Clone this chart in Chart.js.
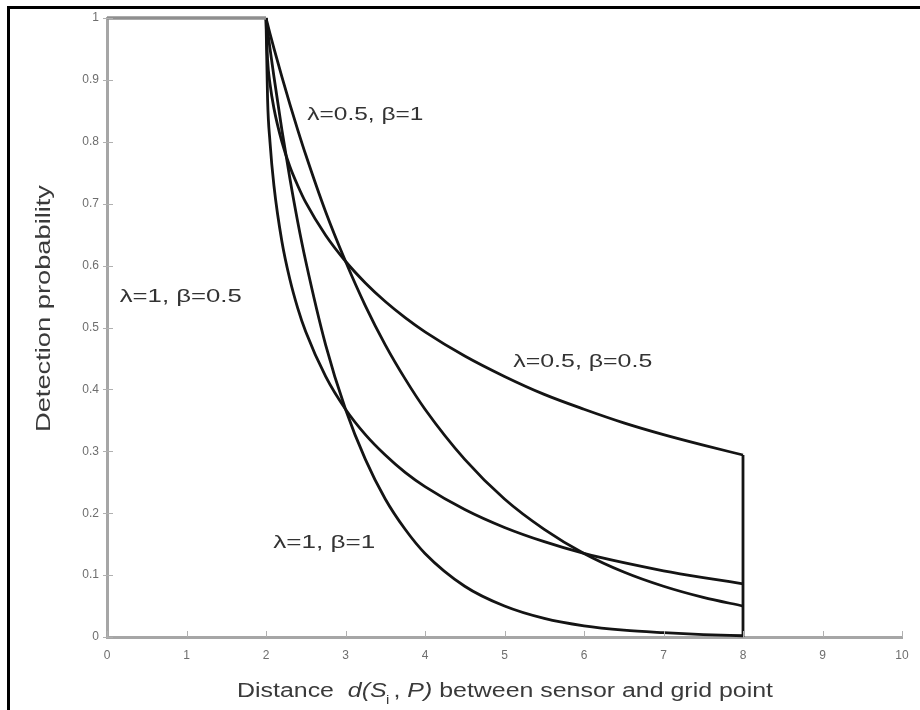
<!DOCTYPE html>
<html>
<head>
<meta charset="utf-8">
<script src="https://cdn.jsdelivr.net/npm/chart.js@4.4.1/dist/chart.umd.min.js"></script>
<style>
  html, body { margin: 0; padding: 0; background: #fff; overflow: hidden; }
  #wrap { position: relative; width: 920px; height: 710px; overflow: hidden; }
  #frame { position: absolute; left: 7px; top: 6px; width: 940px; height: 740px;
           border-left: 3px solid #000; border-top: 3px solid #000; }
  canvas { position: absolute; left: 0; top: 0; }
</style>
</head>
<body>
<div id="wrap">
  <div id="frame"></div>
  <canvas id="probChart" width="920" height="710"></canvas>
</div>
<script>
/* ── DATA ── */
const distance = [2, 2.02, 2.05, 2.1, 2.2, 2.3, 2.4, 2.5, 2.75, 3, 3.25, 3.5, 3.75, 4, 4.5, 5, 5.5, 6, 6.5, 7, 7.5, 8];

// λ=0.5, β=1
const probL05B1 = [1, 0.990, 0.975, 0.951, 0.905, 0.861, 0.819, 0.779, 0.687, 0.607, 0.535, 0.472, 0.417, 0.368, 0.287, 0.223, 0.174, 0.135, 0.105, 0.082, 0.064, 0.050];
// λ=0.5, β=0.5
const probL05B05 = [1, 0.932, 0.894, 0.854, 0.800, 0.760, 0.729, 0.702, 0.649, 0.607, 0.572, 0.542, 0.516, 0.493, 0.454, 0.421, 0.392, 0.368, 0.346, 0.327, 0.310, 0.294];
// λ=1, β=0.5
const probL1B05 = [1, 0.868, 0.800, 0.729, 0.639, 0.578, 0.531, 0.493, 0.421, 0.368, 0.327, 0.294, 0.266, 0.243, 0.206, 0.177, 0.154, 0.135, 0.120, 0.107, 0.096, 0.086];
// λ=1, β=1
const probL1B1 = [1, 0.980, 0.951, 0.905, 0.819, 0.741, 0.670, 0.607, 0.472, 0.368, 0.287, 0.223, 0.174, 0.135, 0.082, 0.050, 0.030, 0.018, 0.011, 0.007, 0.004, 0.002];

// certain detection inside range r = 2
const plateauX = [0, 2];
const plateauY = [1, 1];

// cut-off at d = 8
const cutoffX = 8;

const xTicks = [0, 1, 2, 3, 4, 5, 6, 7, 8, 9, 10];
const yTicks = [0, 0.1, 0.2, 0.3, 0.4, 0.5, 0.6, 0.7, 0.8, 0.9, 1];

const curveLabels = [
    { text: "λ=0.5, β=1",   x: 2.52, y: 0.843, w: 116 },
    { text: "λ=1, β=0.5",   x: 0.16, y: 0.549, w: 122 },
    { text: "λ=0.5, β=0.5", x: 5.11, y: 0.444, w: 139 },
    { text: "λ=1, β=1",     x: 2.09, y: 0.152, w: 102 },
];

/* ── helpers ── */
const FONT = "'Liberation Sans', Arial, sans-serif";
const toPts = (xs, ys) => xs.map((x, i) => ({ x: x, y: ys[i] }));

function curve(values) {
    return {
        data: toPts(distance, values),
        borderColor: "#141414",
        borderWidth: 2.8,
        pointRadius: 0,
        cubicInterpolationMode: "monotone",
        borderJoinStyle: "round",
        clip: false,
    };
}

// draw text pieces stretched horizontally to a given width
function drawFitted(ctx, parts, x, y, targetW) {
    let natural = 0;
    parts.forEach((p) => {
        ctx.font = p.font;
        p.w = ctx.measureText(p.t).width;
        if (!p.sub) natural += p.w;
    });
    const s = targetW / natural;
    ctx.save();
    ctx.translate(x, y);
    ctx.scale(s, 1);
    let cx = 0;
    parts.forEach((p) => {
        ctx.font = p.font;
        ctx.fillText(p.t, cx + (p.sub ? -p.w * 0.2 : 0), p.dy || 0);
        if (!p.sub) cx += p.w;
    });
    ctx.restore();
}

const decorPlugin = {
    id: "decor",
    afterDraw(chart) {
        const { ctx, scales } = chart;
        const xs = scales.x, ys = scales.y;
        ctx.save();

        // small tick marks
        ctx.strokeStyle = "#b0b0b0";
        ctx.lineWidth = 1;
        xTicks.forEach((t) => {
            const px = Math.round(xs.getPixelForValue(t)) + 0.5;
            ctx.beginPath();
            ctx.moveTo(px, ys.bottom - 6);
            ctx.lineTo(px, ys.bottom);
            ctx.stroke();
        });
        yTicks.forEach((t) => {
            const py = Math.round(ys.getPixelForValue(t)) + 0.5;
            ctx.beginPath();
            ctx.moveTo(xs.left - 4, py);
            ctx.lineTo(xs.left + 6, py);
            ctx.stroke();
        });

        // curve annotations
        ctx.fillStyle = "#333";
        ctx.textBaseline = "middle";
        ctx.textAlign = "left";
        curveLabels.forEach((l) => {
            drawFitted(ctx, [{ t: l.text, font: "18px " + FONT }],
                xs.getPixelForValue(l.x), ys.getPixelForValue(l.y), l.w);
        });

        // x axis title with italic d(S_i, P)
        ctx.fillStyle = "#3a3a3a";
        ctx.textBaseline = "alphabetic";
        drawFitted(ctx, [
            { t: "Distance  ", font: "20px " + FONT },
            { t: "d(S", font: "italic 20px " + FONT },
            { t: "i", font: "12px " + FONT, sub: true, dy: 7 },
            { t: " , ", font: "20px " + FONT },
            { t: "P)", font: "italic 20px " + FONT },
            { t: " between sensor and grid point", font: "20px " + FONT },
        ], 237, 697, 536);

        // y axis title
        ctx.save();
        ctx.translate(50, 432);
        ctx.rotate(-Math.PI / 2);
        drawFitted(ctx, [{ t: "Detection probability", font: "20px " + FONT }], 0, 0, 247);
        ctx.restore();

        ctx.restore();
    },
};

/* ── CHART ── */
const probCtx = document.getElementById("probChart").getContext("2d");

const probChart = new Chart(probCtx, {
    type: "line",
    data: {
        datasets: [
            {
                data: toPts(plateauX, plateauY),
                borderColor: "#8f8f8f",
                borderWidth: 3.5,
                pointRadius: 0,
                tension: 0,
                clip: false,
            },
            curve(probL05B1),
            curve(probL05B05),
            curve(probL1B05),
            curve(probL1B1),
            {
                data: [
                    { x: cutoffX, y: probL05B05[probL05B05.length - 1] },
                    { x: cutoffX, y: 0 },
                ],
                borderColor: "#141414",
                borderWidth: 2.8,
                pointRadius: 0,
                tension: 0,
                clip: false,
            },
        ],
    },
    options: {
        responsive: false,
        animation: false,
        devicePixelRatio: 1,
        layout: { padding: { left: 0, top: 18, right: 18, bottom: 0 } },
        plugins: {
            legend: { display: false },
            tooltip: { enabled: false },
        },
        scales: {
            x: {
                type: "linear",
                min: 0,
                max: 10,
                afterBuildTicks: (s) => { s.ticks = xTicks.map((v) => ({ value: v })); },
                afterFit: (s) => { s.height = 73; },
                ticks: {
                    color: "#6e6e6e",
                    font: { family: FONT, size: 12 },
                    padding: 11,
                    maxRotation: 0,
                    autoSkip: false,
                },
                grid: { drawOnChartArea: false, drawTicks: false },
                border: { color: "#a6a6a6", width: 3 },
            },
            y: {
                min: 0,
                max: 1,
                afterBuildTicks: (s) => { s.ticks = yTicks.map((v) => ({ value: v })); },
                afterFit: (s) => { s.width = 107; },
                ticks: {
                    color: "#6e6e6e",
                    font: { family: FONT, size: 12 },
                    padding: 8,
                    autoSkip: false,
                    callback: (v) => String(+v.toFixed(1)),
                },
                grid: { drawOnChartArea: false, drawTicks: false },
                border: { color: "#a6a6a6", width: 3 },
            },
        },
    },
    plugins: [decorPlugin],
});
</script>
</body>
</html>
